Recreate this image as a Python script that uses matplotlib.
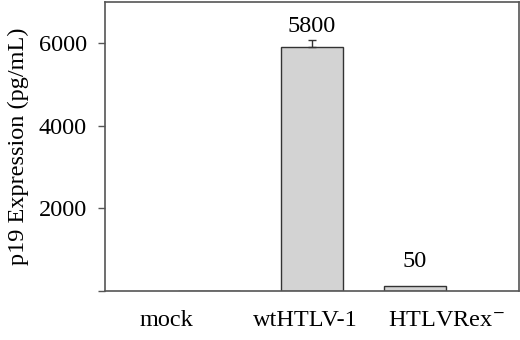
import numpy as np
import matplotlib
matplotlib.use('Agg')
import matplotlib.pyplot as plt

# Data
groups = ['mock', 'wtHTLV-1', 'HTLVRex$^{-}$']
values = [0, 5900, 120]          # bar heights (pg/mL)
errors = [0, 190, 0]             # upper error only
labels = ['', '5800', '50']      # printed values above bars
yticks = [2000, 4000, 6000]

plt.rcParams['font.family'] = ['Liberation Serif', 'DejaVu Serif']
plt.rcParams['mathtext.fontset'] = 'stix'
fs = 17.5

fig = plt.figure(figsize=(5.2, 3.4), dpi=100)
ax = fig.add_axes([105/520, 1-291/340, (519-105)/520, (291-2)/340])

x = np.arange(len(groups))
ax.bar(x, values, width=0.6, color='#d3d3d3', edgecolor='#333333', linewidth=1.0)
ax.errorbar(x[1], values[1], yerr=[[0], [errors[1]]], fmt='none',
            ecolor='#333333', elinewidth=1.0, capsize=3, capthick=1.0)

# value labels
ax.text(x[1], values[1] + errors[1] + 60, labels[1], ha='center', va='bottom', fontsize=fs)
ax.text(x[2], values[2] + 330, labels[2], ha='center', va='bottom', fontsize=fs)

ax.set_xlim(-1.01, 3.01)
ax.set_ylim(0, 7000)
ax.set_yticks([0] + yticks)
ax.set_yticklabels([''] + [str(t) for t in yticks], fontsize=fs)
ax.tick_params(axis='y', direction='out', length=5, width=1, color='#555555', pad=8)

# category labels under the axis (offset from bar centres as in the original)
ax.set_xticks([-0.41, 0.94, 2.30])
ax.set_xticklabels(groups, fontsize=fs)
ax.tick_params(axis='x', length=0, pad=14)

ax.set_ylabel('p19 Expression (pg/mL)', fontsize=fs, labelpad=7)

for s in ax.spines.values():
    s.set_color('#555555')
    s.set_linewidth(1.2)

fig.savefig('out.png', dpi=100)
